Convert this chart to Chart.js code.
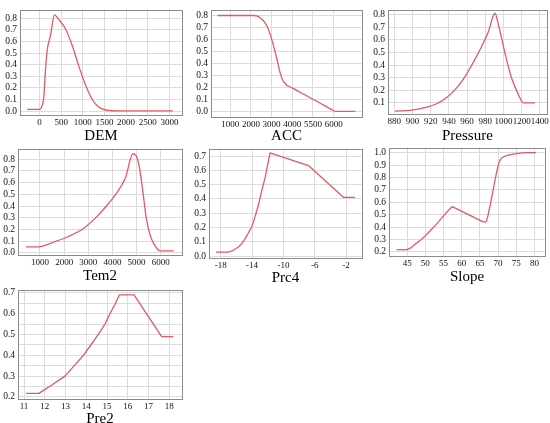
<!DOCTYPE html>
<html>
<head>
<meta charset="utf-8">
<script src="https://cdn.jsdelivr.net/npm/chart.js@4"></script>
<style>
  html, body { margin: 0; padding: 0; background: #fff; }
  body { width: 550px; height: 423px; position: relative; overflow: hidden; }
  canvas { position: absolute; }
</style>
</head>
<body>
<canvas id="dem"></canvas>
<canvas id="acc"></canvas>
<canvas id="pressure"></canvas>
<canvas id="tem2"></canvas>
<canvas id="prc4"></canvas>
<canvas id="slope"></canvas>
<canvas id="pre2"></canvas>
<script>
/* DEM */
const demX = [-283, 0, 62, 100, 125, 176, 253, 345, 444, 598, 751, 905, 1058, 1212, 1365, 1557, 1863, 3075];
const demY = [0.015, 0.015, 0.05, 0.12, 0.28, 0.52, 0.65, 0.83, 0.79, 0.71, 0.57, 0.39, 0.23, 0.105, 0.035, 0.008, 0.002, 0.002];
const demXTicks = [0, 500, 1000, 1500, 2000, 2500, 3000];
const demYTicks = [0, 0.1, 0.2, 0.3, 0.4, 0.5, 0.6, 0.7, 0.8];

/* ACC (tick at 5000 is labelled 5500 in the original figure) */
const accX = [385, 2128, 2370, 2612, 2806, 3018, 3260, 3420, 3582, 4064, 4712, 5356, 5840, 6100, 7050];
const accY = [0.8, 0.8, 0.79, 0.755, 0.70, 0.596, 0.437, 0.318, 0.25, 0.193, 0.132, 0.072, 0.026, 0.004, 0.004];
const accXTicks = [1000, 2000, 3000, 4000, 5000, 6000];
const accXLabels = ['1000', '2000', '3000', '4000', '5500', '6000'];
const accYTicks = [0, 0.1, 0.2, 0.3, 0.4, 0.5, 0.6, 0.7, 0.8];

/* Pressure (last three ticks are labelled 1000, 1200, 1400) */
const presX = [880.7, 899, 913.7, 926.5, 937.5, 948.5, 957.7, 966.8, 976, 983.3, 990.6, 994.3, 1001.6, 1009, 1016.3, 1021.8, 1034.6];
const presY = [0.035, 0.042, 0.063, 0.093, 0.143, 0.219, 0.308, 0.421, 0.547, 0.661, 0.81, 0.724, 0.497, 0.295, 0.169, 0.10, 0.10];
const presXTicks = [880, 900, 920, 940, 960, 980, 1000, 1020, 1040];
const presXLabels = ['880', '900', '920', '940', '960', '980', '1000', '1200', '1400'];
const presYTicks = [0.1, 0.2, 0.3, 0.4, 0.5, 0.6, 0.7, 0.8];

/* Tem2 */
const temX = [418, 931, 1554, 2177, 2800, 3355, 3770, 4186, 4532, 4850, 4990, 5127, 5266, 5404, 5571, 5778, 5986, 6540];
const temY = [0.05, 0.05, 0.09, 0.139, 0.208, 0.309, 0.404, 0.514, 0.637, 0.847, 0.828, 0.72, 0.514, 0.295, 0.145, 0.055, 0.016, 0.016];
const temXTicks = [1000, 2000, 3000, 4000, 5000, 6000];
const temYTicks = [0, 0.1, 0.2, 0.3, 0.4, 0.5, 0.6, 0.7, 0.8];

/* Prc4 */
const prcX = [-18.6, -17.0, -16.4, -15.7, -15.3, -14.9, -14.5, -14.0, -13.6, -13.2, -12.8, -12.3, -12.0, -11.7, -6.8, -2.3, -0.85];
const prcY = [0.029, 0.029, 0.042, 0.067, 0.09, 0.122, 0.16, 0.211, 0.28, 0.356, 0.45, 0.556, 0.64, 0.722, 0.633, 0.411, 0.411];
const prcXTicks = [-18, -14, -10, -6, -2];
const prcYTicks = [0, 0.1, 0.2, 0.3, 0.4, 0.5, 0.6, 0.7];

/* Slope */
const slopeX = [42.1, 45, 46, 47.1, 48.5, 49.9, 51.2, 52.6, 54, 55.4, 56.5, 57.4, 65.9, 66.7, 67.2, 67.8, 68.5, 69.2, 69.8, 70.3, 70.9, 71.5, 72.5, 73.8, 75.5, 77.4, 80.4];
const slopeY = [0.218, 0.218, 0.232, 0.258, 0.29, 0.326, 0.366, 0.409, 0.455, 0.504, 0.54, 0.565, 0.441, 0.441, 0.49, 0.572, 0.68, 0.786, 0.87, 0.925, 0.955, 0.967, 0.978, 0.987, 0.995, 1.0, 1.0];
const slopeXTicks = [45, 50, 55, 60, 65, 70, 75, 80];
const slopeYTicks = [0.2, 0.3, 0.4, 0.5, 0.6, 0.7, 0.8, 0.9, 1.0];

/* Pre2 */
const pre2X = [11.1, 11.72, 12.3, 12.97, 13.4, 13.86, 14.2, 14.58, 14.9, 15.14, 15.38, 15.59, 16.3, 17.63, 18.19];
const pre2Y = [0.217, 0.217, 0.255, 0.3, 0.348, 0.4, 0.447, 0.5, 0.55, 0.6, 0.645, 0.69, 0.69, 0.49, 0.49];
const pre2XTicks = [11, 12, 13, 14, 15, 16, 17, 18];
const pre2YTicks = [0.2, 0.25, 0.3, 0.35, 0.4, 0.45, 0.5, 0.55, 0.6, 0.65, 0.7];

const LINE = '#e05a64';
const GRID = '#dcdcdc';
const FRAME = '#8c8c8c';
const SERIF = '"Liberation Serif", "Times New Roman", serif';

// grey box round the plot area
const framePlugin = {
  id: 'frame',
  afterDraw(chart) {
    const a = chart.chartArea, c = chart.ctx;
    c.save();
    c.strokeStyle = FRAME;
    c.lineWidth = 1;
    c.strokeRect(Math.round(a.left) + 0.5, Math.round(a.top) + 0.5,
                 Math.round(a.right - a.left), Math.round(a.bottom - a.top));
    c.restore();
  }
};

let panel = (id, box, titleY, title, xs, ys, xr, yr, xTicks, yTicks, xLabels, smooth) => {
  const yw = 32, pt = 4, pr = 4;
  const xh = titleY - box.b + 11;
  const cv = document.getElementById(id);
  const w = box.r - box.l + yw + pr, h = box.b - box.t + pt + xh;
  cv.width = w; cv.height = h;
  cv.style.left = (box.l - yw) + 'px';
  cv.style.top = (box.t - pt) + 'px';
  cv.style.width = w + 'px'; cv.style.height = h + 'px';

  const ds = {
    data: xs.map((x, i) => ({ x: x, y: ys[i] })),
    borderColor: LINE,
    borderWidth: 1.3,
    pointRadius: 0,
    borderJoinStyle: 'round',
    fill: false
  };
  if (smooth) ds.cubicInterpolationMode = 'monotone';
  else ds.tension = 0;

  new Chart(cv, {
    type: 'line',
    data: { datasets: [ds] },
    options: {
      responsive: false,
      animation: false,
      layout: { padding: { top: pt, right: pr, left: 0, bottom: 0 } },
      plugins: { legend: { display: false }, tooltip: { enabled: false } },
      scales: {
        x: {
          type: 'linear',
          min: xr[0], max: xr[1],
          afterBuildTicks: (axis) => { axis.ticks = xTicks.map(v => ({ value: v })); },
          afterFit: (axis) => { axis.height = xh; },
          grid: { color: GRID, drawTicks: false },
          border: { display: false },
          ticks: {
            padding: 2,
            maxRotation: 0,
            autoSkip: false,
            color: '#111',
            font: { family: SERIF, size: 9 },
            callback: (v, i) => xLabels ? xLabels[i] : String(v)
          },
          title: {
            display: true,
            text: title,
            color: '#000',
            padding: { top: 0, bottom: 0 },
            font: { family: SERIF, size: 15, lineHeight: 1.1 }
          }
        },
        y: {
          min: yr[0], max: yr[1],
          afterBuildTicks: (axis) => { axis.ticks = yTicks.map(v => ({ value: v })); },
          afterFit: (axis) => { axis.width = yw; },
          grid: { color: GRID, drawTicks: false },
          border: { display: false },
          ticks: {
            padding: 3,
            autoSkip: false,
            color: '#111',
            font: { family: SERIF, size: 9.5 },
            callback: (v) => Math.abs(v * 10 - Math.round(v * 10)) < 1e-6 ? v.toFixed(1) : ''
          }
        }
      }
    },
    plugins: [framePlugin]
  });
};

panel('dem', { l: 20, t: 5, r: 182, b: 115 }, 133, 'DEM', demX, demY, [-450, 3290], [-0.033, 0.874], demXTicks, demYTicks, null, true);
panel('acc', { l: 211, t: 5, r: 362, b: 117 }, 133, 'ACC', accX, accY, [70, 7370], [-0.042, 0.848], accXTicks, accYTicks, accXLabels, true);
panel('pressure', { l: 388, t: 5, r: 547, b: 114 }, 133, 'Pressure', presX, presY, [873, 1047.7], [0.012, 0.838], presXTicks, presYTicks, presXLabels, true);
panel('tem2', { l: 18, t: 144, r: 182, b: 255 }, 273, 'Tem2', temX, temY, [89, 6882], [-0.019, 0.89], temXTicks, temYTicks, null, true);
panel('prc4', { l: 209, t: 144, r: 362, b: 258 }, 275, 'Prc4', prcX, prcY, [-19.5, 0.04], [-0.012, 0.751], prcXTicks, prcYTicks, null, false);
panel('slope', { l: 389, t: 143, r: 545, b: 256 }, 274, 'Slope', slopeX, slopeY, [40, 82.9], [0.166, 1.04], slopeXTicks, slopeYTicks, null, false);
panel('pre2', { l: 18, t: 285, r: 182, b: 399 }, 416, 'Pre2', pre2X, pre2Y, [10.71, 18.61], [0.19, 0.715], pre2XTicks, pre2YTicks, null, false);
</script>
</body>
</html>
